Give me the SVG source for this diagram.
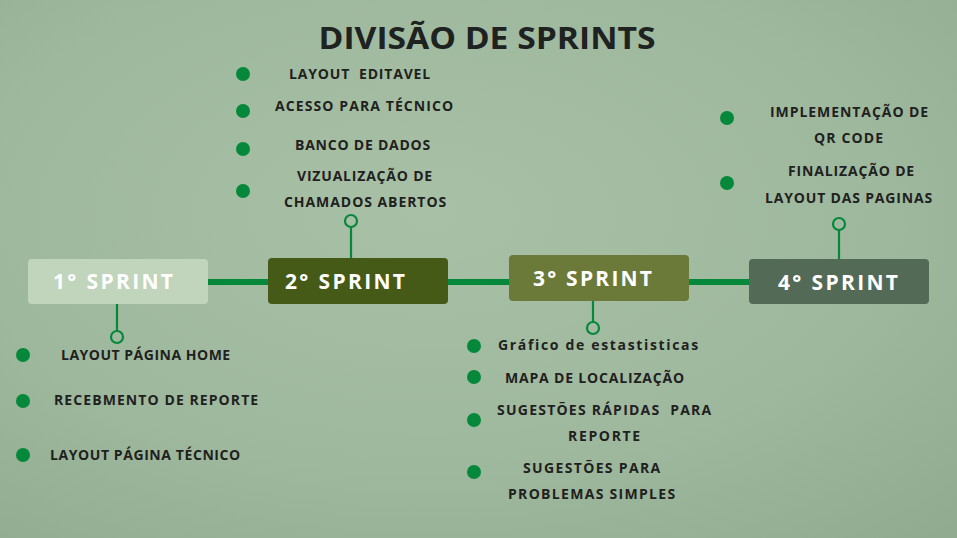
<svg xmlns="http://www.w3.org/2000/svg" width="957" height="538" viewBox="0 0 957 538">
<defs>
<radialGradient id="bg" cx="0.45" cy="0.4" r="0.8">
<stop offset="0" stop-color="#a8c1a6"/>
<stop offset="0.6" stop-color="#9eb89d"/>
<stop offset="1" stop-color="#91ab91"/>
</radialGradient>
<style>
.t{font-family:"Open Sans","Liberation Sans",sans-serif;font-weight:bold;font-size:14px;fill:#1f211e;letter-spacing:0.8px}
.s{font-family:"Open Sans","Liberation Sans",sans-serif;font-weight:bold;font-size:21px;fill:#ffffff;letter-spacing:3px}
.b{fill:#05883a}
.c{fill:none;stroke:#05883a;stroke-width:2.2}
.l{stroke:#05883a;stroke-width:2.2}
</style>
</defs>
<rect width="957" height="538" fill="url(#bg)"/>
<text x="487" y="49" text-anchor="middle" font-family="Open Sans, Liberation Sans, sans-serif" font-weight="bold" font-size="30" fill="#1e2220" textLength="337" lengthAdjust="spacingAndGlyphs">DIVISÃO DE SPRINTS</text>
<g id="connectors">
<line x1="205" y1="282" x2="752" y2="282" stroke="#05883a" stroke-width="6"/>
<line class="l" x1="117" y1="304" x2="117" y2="331"/>
<circle class="c" cx="117" cy="337" r="6"/>
<line class="l" x1="351" y1="258" x2="351" y2="227"/>
<circle class="c" cx="351" cy="221" r="6"/>
<line class="l" x1="593" y1="301" x2="593" y2="322"/>
<circle class="c" cx="593" cy="328" r="6"/>
<line class="l" x1="839" y1="259" x2="839" y2="230"/>
<circle class="c" cx="839" cy="224" r="6"/>
</g>
<g id="sprint1">
<rect x="28" y="259" width="180" height="45" rx="4" fill="#c0d5bc"/>
<text class="s" x="53" y="289" textLength="123">1° SPRINT</text>
</g>
<g id="sprint2">
<rect x="268" y="258" width="180" height="46" rx="4" fill="#455a16"/>
<text class="s" x="285" y="289" textLength="123">2° SPRINT</text>
</g>
<g id="sprint3">
<rect x="509" y="255" width="180" height="46" rx="4" fill="#6b7a39"/>
<text class="s" x="533" y="286" textLength="122">3° SPRINT</text>
</g>
<g id="sprint4">
<rect x="749" y="259" width="180" height="45" rx="4" fill="#536a56"/>
<text class="s" x="778" y="290" textLength="123">4° SPRINT</text>
</g>
<g id="items1">
<circle class="b" cx="23" cy="355" r="7"/>
<text class="t" x="61" y="360" textLength="170">LAYOUT PÁGINA HOME</text>
<circle class="b" cx="23" cy="401" r="7"/>
<text class="t" x="54" y="405" textLength="205">RECEBMENTO DE REPORTE</text>
<circle class="b" cx="23" cy="455" r="7"/>
<text class="t" x="50" y="460" textLength="191">LAYOUT PÁGINA TÉCNICO</text>
</g>
<g id="items2">
<circle class="b" cx="243" cy="74" r="7"/>
<text class="t" x="289" y="79" textLength="142" xml:space="preserve">LAYOUT  EDITAVEL</text>
<circle class="b" cx="243" cy="111" r="7"/>
<text class="t" x="275" y="111" textLength="179">ACESSO PARA TÉCNICO</text>
<circle class="b" cx="243" cy="149" r="7"/>
<text class="t" x="295" y="150" textLength="136">BANCO DE DADOS</text>
<circle class="b" cx="243" cy="191" r="7"/>
<text class="t" x="297" y="181" textLength="136">VIZUALIZAÇÃO DE</text>
<text class="t" x="284" y="207" textLength="163">CHAMADOS ABERTOS</text>
</g>
<g id="items3">
<circle class="b" cx="474" cy="346" r="7"/>
<text class="t" x="498" y="350" textLength="201">Gráfico de estastisticas</text>
<circle class="b" cx="474" cy="377" r="7"/>
<text class="t" x="505" y="383" textLength="180">MAPA DE LOCALIZAÇÃO</text>
<circle class="b" cx="474" cy="420" r="7"/>
<text class="t" x="497" y="415" textLength="215" xml:space="preserve">SUGESTÕES RÁPIDAS  PARA</text>
<text class="t" x="568" y="441" textLength="73">REPORTE</text>
<circle class="b" cx="474" cy="472" r="7"/>
<text class="t" x="523" y="473" textLength="138">SUGESTÕES PARA</text>
<text class="t" x="508" y="499" textLength="168">PROBLEMAS SIMPLES</text>
</g>
<g id="items4">
<circle class="b" cx="727" cy="118" r="7"/>
<text class="t" x="770" y="117" textLength="159">IMPLEMENTAÇÃO DE</text>
<text class="t" x="814" y="143" textLength="70">QR CODE</text>
<circle class="b" cx="727" cy="183" r="7"/>
<text class="t" x="788" y="176" textLength="127">FINALIZAÇÃO DE</text>
<text class="t" x="765" y="203" textLength="168">LAYOUT DAS PAGINAS</text>
</g>
</svg>
